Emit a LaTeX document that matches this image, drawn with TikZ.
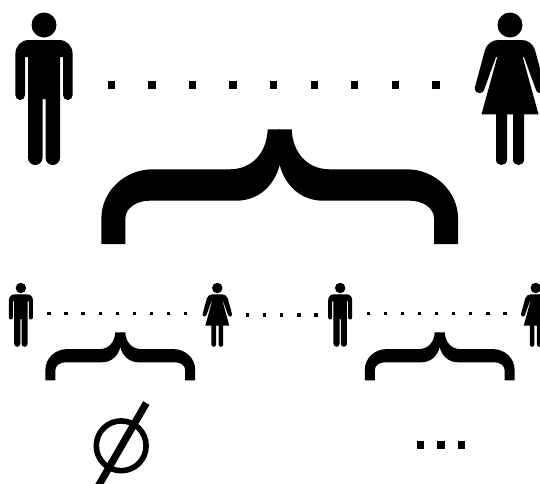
\documentclass[tikz,border=0pt]{standalone}
\usepackage{tikz}
\usetikzlibrary{positioning}

\begin{document}
\begin{tikzpicture}[
    x=.75pt,y=-.75pt,
    bigdot/.style={rectangle,fill=black,minimum width=5.5pt,minimum height=5.5pt,inner sep=0pt},
    smalldot/.style={rectangle,fill=black,minimum size=2.5pt,inner sep=0pt},
    midpoint/.style={rectangle,fill=black,minimum width=5.6pt,minimum height=6pt,inner sep=0pt},
    pics/man/.style={code={
      \fill (0,0) circle[radius=12.5];
      \foreach \s in {1,-1} {\fill[xscale=\s] (-.5,15) -- (15,15) .. controls (23,15) and (28.6,21) .. (28.6,29) -- (28.6,70)
        .. controls (28.6,73) and (26.6,75) .. (23.8,75) .. controls (21,75) and (19,73) .. (19,70) -- (19,32) -- (16,32) -- (16,133)
        .. controls (16,137) and (12.5,140) .. (8.7,140) .. controls (5,140) and (1.5,137) .. (1.5,133) -- (1.5,74) -- (-.5,74) -- cycle;}
    }},
    pics/woman/.style={code={
      \fill (0,0) circle[radius=12.5];
      \foreach \s in {1,-1} {\fill[xscale=\s] (-.5,15) -- (12,15) .. controls (18,15) and (23,19) .. (25,25) -- (35,62)
        .. controls (36,66) and (33,68) .. (30,68) .. controls (28,68) and (26.5,67) .. (26,65) -- (14,32) -- (12.7,32) -- (28.5,89.3)
        -- (14,89.3) -- (14,134.5) .. controls (14,138) and (11.5,140) .. (8.5,140) .. controls (5.5,140) and (3,138) .. (3,134.5)
        -- (3,89.3) -- (-.5,89.3) -- cycle;}
    }},
    pics/curly/.style={code={
      \foreach \s in {1,-1} {\fill[xscale=\s] (-.5,0) -- (12,0) .. controls (13,24) and (28,40) .. (50,40) -- (127,40)
        .. controls (155,40) and (178.3,62) .. (178.3,89) -- (178.3,114.7) -- (154.3,114.7) -- (154.3,89)
        .. controls (154.3,79) and (143.5,71.4) .. (130.3,71.4) -- (43.6,71.4) .. controls (20,71.4) and (5,55) .. (0,35.7)
        -- (-.5,36) -- cycle;}
    }}
  ]
    \path[use as bounding box,clip] (0,0) rectangle (540,483);
    \pic (m0) at (44,25) {man};
    \pic (w0) at (510,25) {woman};
    \foreach \i in {0,...,8} {\node[bigdot] (b\i) at (111.5+40.55*\i,85) {};}
    \pic (c0) at (279.7,129.3) {curly};

    \pic[scale=.42] (m1) at (20.9,288) {man};
    \pic[scale=.42] (w1) at (217.3,288) {woman};
    \pic[scale=.42] (m2) at (340.2,288) {man};
    \pic[scale=.42] (w2) at (535.7,288) {woman};
    \foreach \i in {0,...,8} {\node[smalldot] (p\i) at (49+17.08*\i,313.3) {};}
    \foreach \i in {0,...,4} {\node[smalldot] (q\i) at (247.3+17.2*\i,315) {};}
    \foreach \i in {0,...,8} {\node[smalldot] (r\i) at (368.3+17.08*\i,313.3) {};}
    \pic[scale=.42] (c1) at (120.3,332.3) {curly};
    \pic[scale=.42] (c2) at (439.7,332.3) {curly};

    \draw[line width=4.2pt] (121.2,445.8) circle[radius=24.9];
    \draw[line width=5.4pt] (146.3,403) -- (95,491.8);
    \foreach \i in {0,1,2} {\node[midpoint] (t\i) at (420.7+20.5*\i,445) {};}
\end{tikzpicture}
\end{document}
